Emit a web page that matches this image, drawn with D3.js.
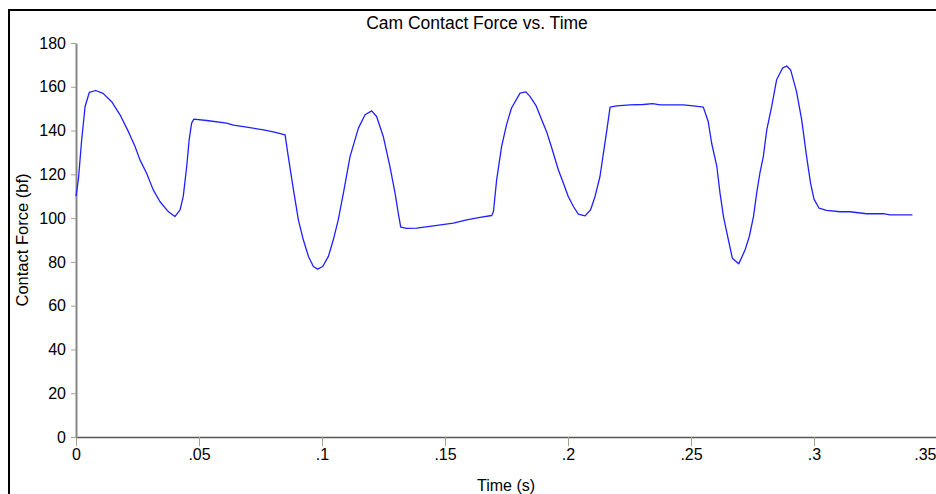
<!DOCTYPE html>
<html>
<head>
<meta charset="utf-8">
<script src="https://cdn.jsdelivr.net/npm/d3@7"></script>
<style>
  body { margin: 0; background: #fff; }
  svg { display: block; font-family: "Liberation Sans", Arial, sans-serif; }
</style>
</head>
<body>
<svg id="chart"></svg>
<script>
const time = [
  0, 0.001, 0.0023, 0.0037, 0.0054, 0.008, 0.011, 0.0145, 0.0179, 0.0213,
  0.024, 0.026, 0.0287, 0.0314, 0.0341, 0.0375, 0.0402, 0.0423, 0.0436, 0.045,
  0.046, 0.047, 0.0479, 0.0531, 0.0612, 0.064, 0.0694, 0.0762, 0.0802, 0.085,
  0.0863, 0.0884, 0.0904, 0.0924, 0.0945, 0.0965, 0.0982, 0.1003, 0.1026, 0.1046,
  0.1066, 0.1087, 0.1114, 0.1148, 0.1175, 0.1202, 0.1222, 0.1249, 0.1276, 0.1297,
  0.131, 0.132, 0.1344, 0.1385, 0.1453, 0.1534, 0.1588, 0.1642, 0.169, 0.1697,
  0.171, 0.173, 0.175, 0.177, 0.1805, 0.1829, 0.1846, 0.187, 0.1893, 0.1913,
  0.1934, 0.1961, 0.1981, 0.2001, 0.2022, 0.2042, 0.2069, 0.2092, 0.211, 0.213,
  0.2144, 0.216, 0.2171, 0.2198, 0.2252, 0.2306, 0.2344, 0.2374, 0.2469, 0.2509,
  0.255, 0.257, 0.2584, 0.2605, 0.2618, 0.2632, 0.2652, 0.2668, 0.2694, 0.272,
  0.2737, 0.2754, 0.2767, 0.278, 0.2794, 0.2808, 0.2828, 0.2848, 0.2872, 0.2889,
  0.2905, 0.2929, 0.295, 0.297, 0.2986, 0.3, 0.302, 0.3051, 0.3106, 0.3146,
  0.3214, 0.3282, 0.3309, 0.34
];

const force = [
  110, 118, 135.7, 151, 157.4, 158.3, 157, 153.2, 147.2, 139.5,
  132.7, 126.6, 120.5, 112.9, 107.6, 103, 100.7, 103.8, 109.9, 123.6,
  135.7, 143.4, 145.2, 144.6, 143.4, 142.5, 141.6, 140.3, 139.4, 138,
  128.1, 112.9, 99.2, 90.1, 82.5, 77.9, 76.7, 77.9, 82.5, 90.1,
  99.2, 111.4, 128.1, 141.1, 147.2, 149, 146.4, 137.3, 123.6, 111.4,
  102.3, 95.9, 95.3, 95.4, 96.5, 97.7, 99.2, 100.3, 101.2, 103,
  117.5, 132.7, 142.6, 150.2, 157.1, 157.7, 155.5, 151.4, 144.9, 139.5,
  132, 122, 116, 109.9, 105.3, 101.8, 101, 103.8, 109.9, 119,
  129.7, 141.8, 150.7, 151.3, 151.7, 151.9, 152.3, 151.7, 151.7, 151.3,
  150.7, 144.1, 134.2, 123.6, 111.4, 100.7, 90.1, 81.7, 79.1, 85.5,
  91.6, 100.7, 111.4, 120.5, 128.1, 140.3, 151, 163.2, 168.5, 169.5,
  167.7, 157.8, 144.9, 128.1, 116, 108.7, 104.6, 103.5, 102.9, 102.9,
  102, 102, 101.5, 101.5
];

const xTicks = [0, 0.05, 0.1, 0.15, 0.2, 0.25, 0.3, 0.35];
const xTickLabels = ["0", ".05", ".1", ".15", ".2", ".25", ".3", ".35"];
const yTicks = [0, 20, 40, 60, 80, 100, 120, 140, 160, 180];

const dataset = time.map((t, i) => [t, force[i]]);

const W = 936;
const H = 494;
const margin = { top: 43, right: 0, bottom: 57, left: 76 };
const width = 861;
const height = 394;

const root = d3.select("#chart").attr("width", W).attr("height", H);

// outer frame, runs off the right/bottom edge like the original
root
  .append("rect")
  .attr("x", 9)
  .attr("y", 10)
  .attr("width", 960)
  .attr("height", 520)
  .attr("fill", "none")
  .attr("stroke", "#000")
  .attr("stroke-width", 2);

const svg = root
  .append("g")
  .attr("transform", `translate(${margin.left},${margin.top})`);

const xScale = d3.scaleLinear().domain([0, 0.35]).range([0, width]);
const yScale = d3.scaleLinear().domain([0, 180]).range([height, 0]);

const xAxis = d3
  .axisBottom(xScale)
  .tickValues(xTicks)
  .tickFormat((d, i) => xTickLabels[i])
  .tickSizeInner(9)
  .tickSizeOuter(0)
  .tickPadding(3);

const yAxis = d3
  .axisLeft(yScale)
  .tickValues(yTicks)
  .tickSizeInner(5)
  .tickSizeOuter(0)
  .tickPadding(5);

const gx = svg
  .append("g")
  .attr("transform", `translate(0, ${height})`)
  .call(xAxis);
gx.select(".domain").attr("stroke", "#555").attr("stroke-width", 1.5);

const gy = svg.append("g").call(yAxis);
gy.select(".domain").attr("stroke", "#888").attr("stroke-width", 2);

[gx, gy].forEach((g) => {
  g.selectAll(".tick line").attr("stroke", "#a3a38a");
  g.selectAll(".tick text")
    .attr("fill", "#000")
    .style("font-size", "16px");
});

// last label sits at the page edge: keep it inside the window
gx.selectAll(".tick text")
  .filter((d) => d === 0.35)
  .attr("text-anchor", "end")
  .attr("dx", "-1");

svg
  .append("path")
  .datum(dataset)
  .attr("fill", "none")
  .attr("stroke", "#2020ff")
  .attr("stroke-width", 1.3)
  .attr("stroke-linejoin", "round")
  .attr("d", d3.line().x((d) => xScale(d[0])).y((d) => yScale(d[1])));

root
  .append("text")
  .attr("x", 477)
  .attr("y", 29)
  .attr("text-anchor", "middle")
  .style("font-size", "17.5px")
  .text("Cam Contact Force vs. Time");

root
  .append("text")
  .attr("transform", "rotate(-90)")
  .attr("x", -240)
  .attr("y", 28)
  .attr("text-anchor", "middle")
  .style("font-size", "16.5px")
  .text("Contact Force (bf)");

root
  .append("text")
  .attr("x", 506)
  .attr("y", 491)
  .attr("text-anchor", "middle")
  .style("font-size", "16px")
  .text("Time (s)");
</script>
</body>
</html>
